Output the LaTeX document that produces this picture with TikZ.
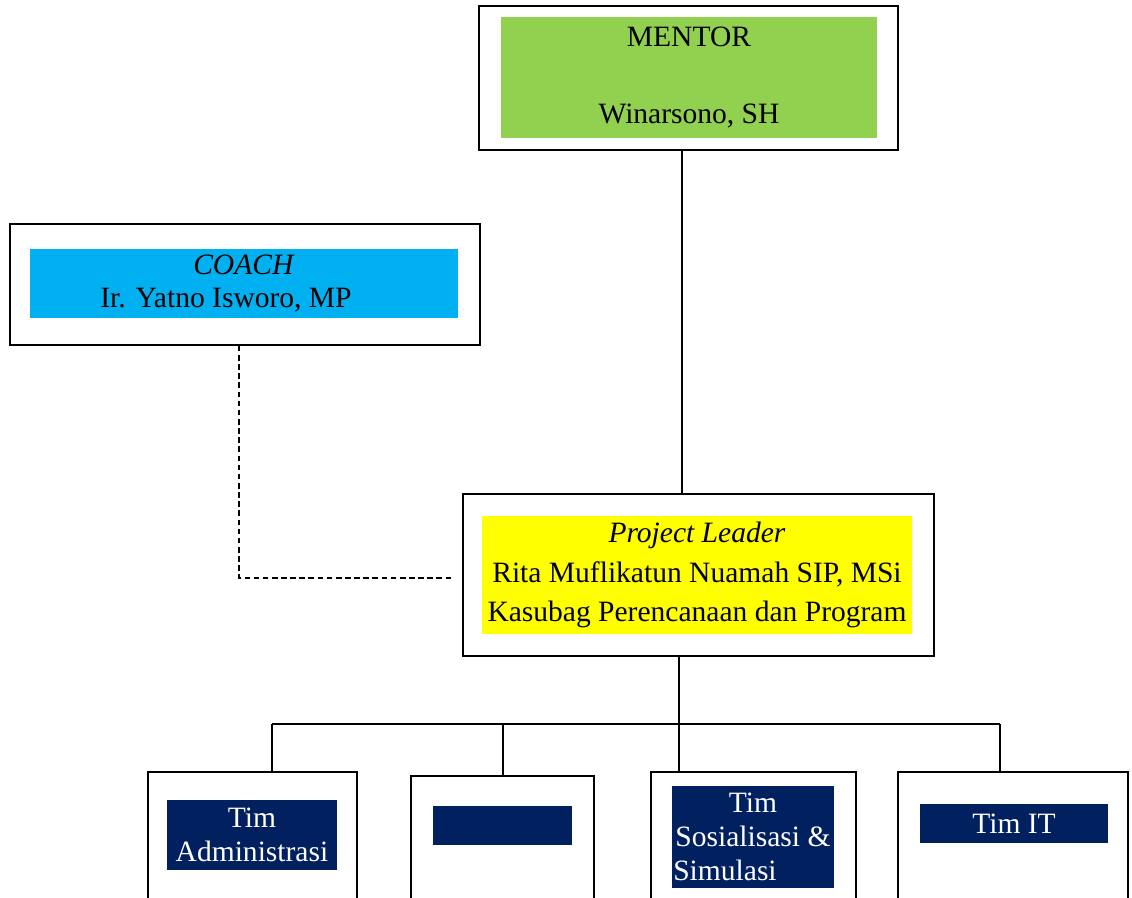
\documentclass[tikz,border=0pt]{standalone}
\usepackage{fontspec}
\setmainfont{Liberation Serif}
\definecolor{mentorgreen}{HTML}{92D050}
\definecolor{coachblue}{HTML}{00B0F0}
\definecolor{leaderyellow}{HTML}{FFFF00}
\definecolor{timnavy}{HTML}{002060}

\begin{document}
\begin{tikzpicture}[
        x=0.025cm, y=-0.025cm,
        frame/.style={draw, line width=1.2pt, inner sep=0pt},
        labelbox/.style={inner sep=0pt, align=center, font=\fontsize{21}{28}\selectfont},
        timbox/.style={labelbox, fill=timnavy, text=white, font=\fontsize{21}{24}\selectfont},
        link/.style={line width=1.1pt}
    ]
        \clip (0,0) rectangle (1132,897);
        \fill[white] (0,0) rectangle (1132,897);

        % Mentor
        \node[frame, minimum width=10.475cm, minimum height=3.6cm] (mentor) at (688.5,78) {};
        \node[labelbox, fill=mentorgreen, minimum width=9.4cm, minimum height=3.025cm,
            font=\fontsize{21}{27.6}\selectfont] (mentortext) at (689,77.5) {MENTOR\\ \mbox{}\\ Winarsono, SH};

        % Coach
        \node[frame, minimum width=11.75cm, minimum height=3.025cm] (coach) at (245,284.5) {};
        \node[labelbox, fill=coachblue, minimum width=10.7cm, minimum height=1.725cm,
            font=\fontsize{21}{24}\selectfont] (coachtext) at (244,283.5) {\textit{COACH}\\ Ir. Yatno Isworo, MP\hspace*{0.9cm}};

        % Project leader
        \node[frame, minimum width=11.775cm, minimum height=4.05cm] (leader) at (698.5,575) {};
        \node[labelbox, fill=leaderyellow, minimum width=10.75cm, minimum height=2.95cm] (leadertext) at (697,575)
            {\textit{Project Leader}\\ Rita Muflikatun Nuamah SIP, MSi\\ Kasubag Perencanaan dan Program};

        % Tim
        \node[frame, minimum width=5.225cm, minimum height=4.7cm] (adm) at (252.5,866) {};
        \node[timbox, minimum width=4.25cm, minimum height=1.75cm] (admtext) at (252,835) {Tim\\ Administrasi};
        \node[frame, minimum width=4.575cm, minimum height=4.6cm] (kosong) at (502.5,868) {};
        \node[timbox, minimum width=3.475cm, minimum height=0.975cm] (kosongtext) at (502.5,825.5) {};
        \node[frame, minimum width=5.125cm, minimum height=4.7cm] (sos) at (753.5,866) {};
        \node[timbox, minimum width=4.05cm, minimum height=2.55cm] (sostext) at (753,837)
            {Tim\\ Sosialisasi \&\\ Simulasi\hspace*{1.4cm}};
        \node[frame, minimum width=5.75cm, minimum height=4.7cm] (it) at (1013,866) {};
        \node[timbox, minimum width=4.7cm, minimum height=0.975cm] (ittext) at (1014,823.5) {Tim IT};

        % Garis
        \draw[link] ([xshift=-0.16cm]mentor.south) -- ([xshift=-0.16cm]mentor.south |- leader.north);
        \draw[line width=0.8pt, dash pattern=on 4pt off 2.5pt] ([xshift=-0.15cm]coach.south) |- ([xshift=-0.2cm, yshift=-0.075cm]leader.west);

        \coordinate (hub) at (679,724);
        \coordinate (dadm) at (272,724);
        \coordinate (dkos) at (503,724);
        \coordinate (dit) at (1000,724);
        \draw[link] (leader.south -| hub) -- (hub);
        \draw[link] (dadm) -- (dit);
        \foreach \n/\d in {adm/dadm, kosong/dkos, sos/hub, it/dit}
            \draw[link] (\d) -- (\d |- \n.north);
\end{tikzpicture}
\end{document}
